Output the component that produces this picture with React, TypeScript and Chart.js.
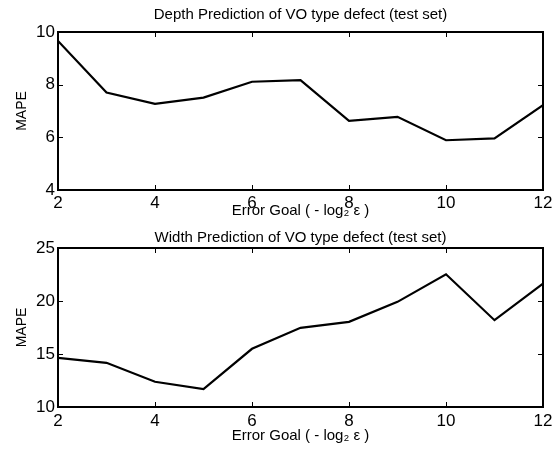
import React, { useEffect, useRef } from "react";
import { Chart, registerables } from "chart.js";

Chart.register(...registerables);

const errorGoal = [2, 3, 4, 5, 6, 7, 8, 9, 10, 11, 12];
const depthMape = [9.66, 7.7, 7.27, 7.51, 8.11, 8.17, 6.63, 6.78, 5.89, 5.96, 7.22];
const widthMape = [14.64, 14.17, 12.38, 11.69, 15.49, 17.47, 18.03, 19.92, 22.52, 18.19, 21.64];
const xTicks = [2, 4, 6, 8, 10, 12];
const depthTicks = [4, 6, 8, 10];
const widthTicks = [10, 15, 20, 25];

const depthTitle = "Depth Prediction of VO type defect (test set)";
const widthTitle = "Width Prediction of VO type defect (test set)";
const xTitle = "Error Goal ( - log\u2082 \u03b5 )";
const yTitle = "MAPE";

const FONT = "'Liberation Sans', Arial, Helvetica, sans-serif";

const framePlugin = {
  id: "matlabFrame",
  afterDraw(chart: any) {
    const { ctx, chartArea } = chart;
    const { left, right, top, bottom } = chartArea;
    const xs = chart.scales.x;
    const ys = chart.scales.y;
    ctx.save();
    ctx.strokeStyle = "#000";
    ctx.lineWidth = 1;
    const tl = 5;
    ctx.beginPath();
    xs.ticks.forEach((t: any) => {
      const p = Math.round(xs.getPixelForValue(t.value)) + 0.5;
      ctx.moveTo(p, bottom);
      ctx.lineTo(p, bottom - tl);
      ctx.moveTo(p, top);
      ctx.lineTo(p, top + tl);
    });
    ys.ticks.forEach((t: any) => {
      const p = Math.round(ys.getPixelForValue(t.value)) + 0.5;
      ctx.moveTo(left, p);
      ctx.lineTo(left + tl, p);
      ctx.moveTo(right, p);
      ctx.lineTo(right - tl, p);
    });
    ctx.stroke();
    ctx.lineWidth = 2;
    ctx.strokeRect(left, top, right - left, bottom - top);
    ctx.restore();
  },
};

type Layout = {
  titleTop: number;
  titleBottom: number;
  xHeight: number;
  xTickPad: number;
  xTitlePad: number;
};

function buildConfig(
  title: string,
  values: number[],
  yTicks: number[],
  lay: Layout
): any {
  return {
    type: "line",
    data: {
      datasets: [
        {
          data: errorGoal.map((x, i) => ({ x, y: values[i] })),
          borderColor: "#000",
          borderWidth: 2.2,
          pointRadius: 0,
          tension: 0,
          fill: false,
        },
      ],
    },
    options: {
      responsive: false,
      animation: false,
      devicePixelRatio: 1,
      layout: { padding: { left: 0, right: 15, top: 0, bottom: 0 } },
      plugins: {
        legend: { display: false },
        tooltip: { enabled: false },
        title: {
          display: true,
          text: title,
          fullSize: false,
          color: "#000",
          font: { family: FONT, size: 15, weight: "normal" },
          padding: { top: lay.titleTop, bottom: lay.titleBottom },
        },
      },
      scales: {
        x: {
          type: "linear",
          min: 2,
          max: 12,
          grid: { display: false, drawTicks: false },
          border: { display: false },
          afterBuildTicks: (s: any) => {
            s.ticks = xTicks.map((v) => ({ value: v }));
          },
          afterFit: (s: any) => {
            s.height = lay.xHeight;
          },
          ticks: {
            color: "#000",
            padding: lay.xTickPad,
            maxRotation: 0,
            autoSkip: false,
            font: { family: FONT, size: 17 },
          },
          title: {
            display: true,
            text: xTitle,
            color: "#000",
            font: { family: FONT, size: 15 },
            padding: { top: 0, bottom: lay.xTitlePad },
          },
        },
        y: {
          type: "linear",
          min: yTicks[0],
          max: yTicks[yTicks.length - 1],
          grid: { display: false, drawTicks: false },
          border: { display: false },
          afterBuildTicks: (s: any) => {
            s.ticks = yTicks.map((v) => ({ value: v }));
          },
          afterFit: (s: any) => {
            s.width = 58;
          },
          ticks: {
            color: "#000",
            padding: 3,
            autoSkip: false,
            font: { family: FONT, size: 17 },
          },
          title: {
            display: true,
            text: yTitle,
            color: "#000",
            font: { family: FONT, size: 14 },
            padding: { top: 14, bottom: 0 },
          },
        },
      },
    },
    plugins: [framePlugin],
  };
}

function Panel({ title, values, yTicks, lay, top }: any) {
  const ref = useRef<HTMLCanvasElement | null>(null);
  useEffect(() => {
    if (!ref.current) return;
    const chart = new Chart(ref.current, buildConfig(title, values, yTicks, lay));
    return () => chart.destroy();
  }, []);
  return (
    <div style={{ position: "absolute", left: 0, top, width: 558, height: 225 }}>
      <canvas ref={ref} width={558} height={225} style={{ width: 558, height: 225, display: "block" }} />
    </div>
  );
}

export default function App() {
  return (
    <div style={{ position: "absolute", left: 0, top: 0, width: 558, height: 450, background: "#fff" }}>
      <Panel
        title={depthTitle}
        values={depthMape}
        yTicks={depthTicks}
        top={0}
        lay={{ titleTop: 6, titleBottom: 8, xHeight: 35, xTickPad: 3, xTitlePad: 5.5 }}
      />
      <Panel
        title={widthTitle}
        values={widthMape}
        yTicks={widthTicks}
        top={225}
        lay={{ titleTop: 4, titleBottom: 1, xHeight: 43, xTickPad: 4.5, xTitlePad: 5 }}
      />
    </div>
  );
}
